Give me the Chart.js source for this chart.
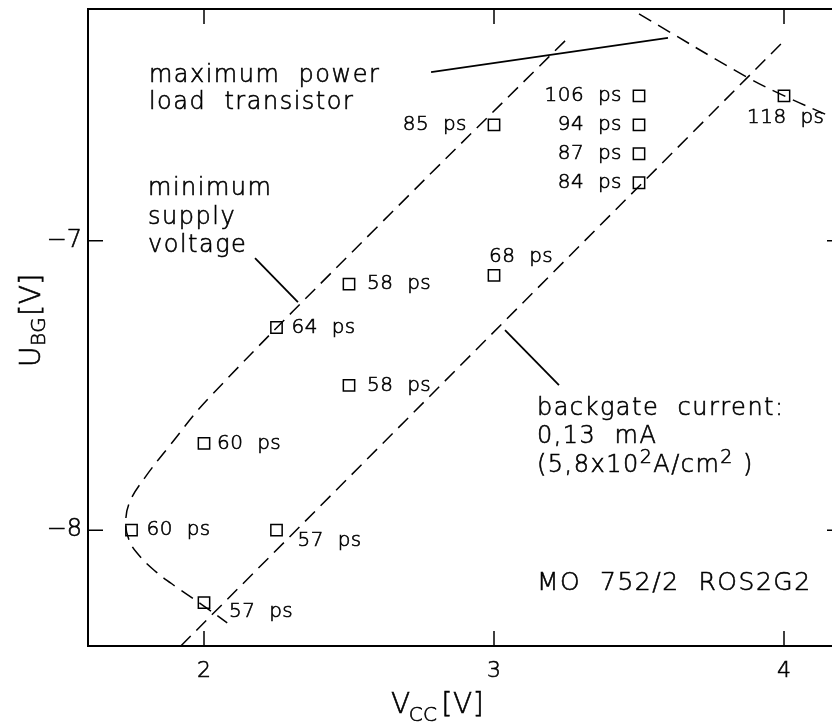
<!DOCTYPE html>
<html>
<head>
<meta charset="utf-8">
<title>UBG - VCC</title>
<script src="https://cdn.jsdelivr.net/npm/chart.js@4.4.1/dist/chart.umd.min.js"></script>
<style>
  html, body { margin: 0; padding: 0; background: #fff; overflow: hidden; }
  canvas { display: block; }
</style>
</head>
<body>
<canvas id="myChart" width="860" height="722"></canvas>
<script>
// measured gate delays
const vcc = [2.0, 1.75, 2.25, 2.0, 2.25, 2.5, 2.5, 3.0, 3.0, 3.5, 3.5, 3.5, 3.5, 4.0];
const ubg = [-8.25, -8.0, -8.0, -7.7, -7.3, -7.5, -7.15, -7.12, -6.6, -6.5, -6.6, -6.7, -6.8, -6.5];
const delays = ["57  ps", "60  ps", "57  ps", "60  ps", "64  ps", "58  ps", "58  ps", "68  ps",
  "85  ps", "106  ps", "94  ps", "87  ps", "84  ps", "118  ps"];

// boundary: minimum supply voltage
const minSupplyX = [3.245, 2.60, 2.02, 1.88, 1.795, 1.745, 1.73, 1.74, 1.77, 1.83, 1.91, 1.99, 2.08];
const minSupplyY = [-6.31, -6.95, -7.54, -7.71, -7.82, -7.90, -7.97, -8.03, -8.08, -8.14, -8.20, -8.255, -8.32];

// boundary: maximum power load transistor
const maxPowerX = [3.50, 3.872, 4.003, 4.166, 4.2];
const maxPowerY = [-6.217, -6.435, -6.501, -6.574, -6.59];

// boundary: backgate current 0,13 mA
const backgateX = [1.92, 4.0];
const backgateY = [-8.4, -6.31];

// pointer lines from the notes to the curves
const pointerPowerX = [2.783, 3.60];
const pointerPowerY = [-6.418, -6.300];
const pointerSupplyX = [2.176, 2.324];
const pointerSupplyY = [-7.060, -7.212];
const pointerBackgateX = [3.038, 3.224];
const pointerBackgateY = [-7.309, -7.499];

const xTicks = [2, 3, 4];
const yTicks = [-8, -7];

function toPoints(xs, ys) {
  return xs.map((x, i) => ({ x: x, y: ys[i] }));
}

// label placement next to each square: dx, dy, align
const labelOffsets = [[25, 9, "left"], [15, 0, "left"], [21, 11, "left"], [13, 0, "left"],
  [15, 0, "left"], [18, 0, "left"], [18, 0, "left"], [-5, -19, "left"], [-27, 0, "right"],
  [-17, 0, "right"], [-17, 0, "right"], [-17, 0, "right"], [-17, 0, "right"], [-37, 22, "left"]];

const FONT = "'DejaVu Sans', sans-serif";

const notes = [
  { parts: [{ t: "maximum  power" }], x: 1.81, y: -6.452 },
  { parts: [{ t: "load  transistor" }], x: 1.81, y: -6.544 },
  { parts: [{ t: "minimum" }], x: 1.807, y: -6.842 },
  { parts: [{ t: "supply" }], x: 1.807, y: -6.943 },
  { parts: [{ t: "voltage" }], x: 1.807, y: -7.039 },
  { parts: [{ t: "backgate  current:" }], x: 3.148, y: -7.602 },
  { parts: [{ t: "0,13  mA" }], x: 3.148, y: -7.699 },
  { parts: [{ t: "(5,8x10" }, { t: "2", sup: true }, { t: "A/cm" }, { t: "2", sup: true }, { t: " )" }], x: 3.148, y: -7.799 },
  { parts: [{ t: "MO  752/2  ROS2G2" }], x: 3.148, y: -8.207, size: 25 }
];

function text(ctx, t, x, y) {
  ctx.fillText(t, x, y);
  ctx.strokeText(t, x, y);
}

function drawParts(ctx, parts, x, y, size) {
  parts.forEach((p) => {
    const s = p.sup ? Math.round(size * 0.78) : size;
    ctx.font = "300 " + s + "px " + FONT;
    text(ctx, p.t, x, p.sup ? y - 9 : y);
    x += ctx.measureText(p.t).width;
  });
}

const framePlugin = {
  id: "frame",
  afterDraw(chart) {
    const ctx = chart.ctx;
    const a = chart.chartArea;
    const xs = chart.scales.x;
    const ys = chart.scales.y;
    ctx.save();
    ctx.strokeStyle = "#000";
    ctx.fillStyle = "#000";

    // frame
    ctx.lineWidth = 2;
    ctx.strokeRect(a.left, a.top, a.right - a.left, a.bottom - a.top);

    // inward ticks on all four sides
    ctx.lineWidth = 1.5;
    ctx.beginPath();
    xs.ticks.forEach((t) => {
      const px = xs.getPixelForValue(t.value);
      const len = xTicks.includes(Math.round(t.value * 10) / 10) ? 15 : 10;
      ctx.moveTo(px, a.bottom);
      ctx.lineTo(px, a.bottom - len);
      ctx.moveTo(px, a.top);
      ctx.lineTo(px, a.top + len);
    });
    ys.ticks.forEach((t) => {
      const py = ys.getPixelForValue(t.value);
      const len = yTicks.includes(Math.round(t.value * 10) / 10) ? 15 : 10;
      ctx.moveTo(a.left, py);
      ctx.lineTo(a.left + len, py);
      ctx.moveTo(a.right, py);
      ctx.lineTo(a.right - len, py);
    });
    ctx.stroke();

    // delay labels
    ctx.lineWidth = 0.6;
    ctx.letterSpacing = "0.5px";
    ctx.font = "300 20px " + FONT;
    ctx.textBaseline = "middle";
    const meta = chart.getDatasetMeta(0);
    meta.data.forEach((pt, i) => {
      const o = labelOffsets[i];
      ctx.textAlign = o[2];
      text(ctx, delays[i], pt.x + o[0], pt.y + o[1]);
    });

    // notes
    ctx.letterSpacing = "1.5px";
    ctx.textAlign = "left";
    ctx.textBaseline = "alphabetic";
    notes.forEach((n) => {
      drawParts(ctx, n.parts, xs.getPixelForValue(n.x), ys.getPixelForValue(n.y), n.size || 24);
    });

    // axis titles
    ctx.letterSpacing = "0.5px";
    let x = 391;
    ctx.font = "300 28px " + FONT;
    text(ctx, "V", x, 713);
    x += ctx.measureText("V").width - 2;
    ctx.font = "300 20px " + FONT;
    text(ctx, "CC", x, 721);
    x += ctx.measureText("CC").width + 4;
    ctx.font = "300 28px " + FONT;
    text(ctx, "[V]", x, 713);

    ctx.translate(40, 367);
    ctx.rotate(-Math.PI / 2);
    x = 0;
    ctx.font = "300 28px " + FONT;
    text(ctx, "U", x, 0);
    x += ctx.measureText("U").width;
    ctx.font = "300 20px " + FONT;
    text(ctx, "BG", x, 5);
    x += ctx.measureText("BG").width + 1;
    ctx.font = "300 28px " + FONT;
    text(ctx, "[V]", x, 0);
    ctx.restore();
  }
};

const dashed = {
  showLine: true,
  borderColor: "#000",
  borderWidth: 1.5,
  borderDash: [14, 8],
  pointRadius: 0,
  fill: false
};

const solid = {
  showLine: true,
  borderColor: "#000",
  borderWidth: 1.8,
  pointRadius: 0,
  fill: false,
  tension: 0
};

const data = {
  datasets: [
    {
      label: "delay",
      data: toPoints(vcc, ubg),
      pointStyle: "rect",
      pointRadius: 8,
      pointBorderWidth: 1.5,
      pointBorderColor: "#000",
      pointBackgroundColor: "rgba(0,0,0,0)",
      showLine: false
    },
    Object.assign({ label: "minimum supply voltage", data: toPoints(minSupplyX, minSupplyY), tension: 0.4 }, dashed),
    Object.assign({ label: "maximum power", data: toPoints(maxPowerX, maxPowerY), tension: 0.4 }, dashed),
    Object.assign({ label: "backgate current", data: toPoints(backgateX, backgateY), tension: 0 }, dashed),
    Object.assign({ label: "p1", data: toPoints(pointerPowerX, pointerPowerY) }, solid),
    Object.assign({ label: "p2", data: toPoints(pointerSupplyX, pointerSupplyY) }, solid),
    Object.assign({ label: "p3", data: toPoints(pointerBackgateX, pointerBackgateY) }, solid)
  ]
};

const config = {
  type: "scatter",
  data: data,
  options: {
    responsive: false,
    animation: false,
    layout: { autoPadding: false, padding: { top: 9, right: 18, left: 0, bottom: 0 } },
    plugins: {
      legend: { display: false },
      tooltip: { enabled: false }
    },
    scales: {
      x: {
        type: "linear",
        min: 1.6,
        max: 4.2,
        grid: { display: false, drawTicks: false },
        border: { display: false },
        ticks: {
          stepSize: 0.2,
          autoSkip: false,
          maxRotation: 0,
          padding: 12,
          color: "#000",
          textStrokeColor: "#000",
          textStrokeWidth: 0.6,
          font: { family: FONT, size: 22, weight: "300" },
          callback: (v) => {
            const r = Math.round(v * 10) / 10;
            return xTicks.includes(r) ? String(r) : null;
          }
        },
        afterFit: (s) => {
          s.height = 76;
          s.paddingLeft = 0;
          s.paddingRight = 0;
        }
      },
      y: {
        type: "linear",
        min: -8.4,
        max: -6.2,
        grid: { display: false, drawTicks: false },
        border: { display: false },
        ticks: {
          stepSize: 0.2,
          autoSkip: false,
          padding: 6,
          color: "#000",
          textStrokeColor: "#000",
          textStrokeWidth: 0.6,
          font: { family: FONT, size: 24, weight: "300" },
          callback: (v) => {
            const r = Math.round(v * 10) / 10;
            return yTicks.includes(r) ? "\u2212" + Math.abs(r) : null;
          }
        },
        afterFit: (s) => {
          s.width = 88;
          s.paddingTop = 0;
          s.paddingBottom = 0;
        }
      }
    }
  },
  plugins: [framePlugin]
};

const chart = new Chart(document.getElementById("myChart").getContext("2d"), config);
</script>
</body>
</html>
